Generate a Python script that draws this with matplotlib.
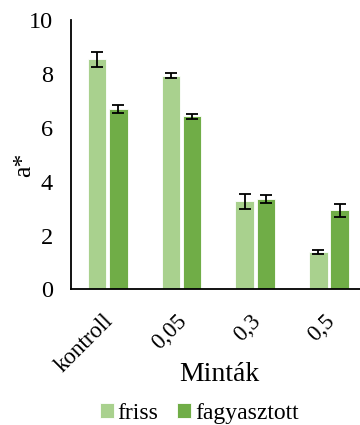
import numpy as np
import matplotlib
matplotlib.use('Agg')
import matplotlib.pyplot as plt
from matplotlib.transforms import ScaledTranslation

plt.rcParams['font.family'] = ['Liberation Serif', 'DejaVu Serif']

# a* colour values per sample, with standard deviations
categories = ['kontroll', '0,05', '0,3', '0,5']
friss = [8.55, 7.95, 3.28, 1.39]
friss_err = [0.28, 0.10, 0.28, 0.09]
fagyasztott = [6.71, 6.43, 3.35, 2.95]
fagyasztott_err = [0.14, 0.09, 0.15, 0.24]

fig = plt.figure(figsize=(3.6, 4.25), dpi=100)
ax = fig.add_axes([0.197, 0.319, 0.819, 0.633])

x = np.arange(len(categories))
w = 0.25
off = 0.144
err_kw = dict(elinewidth=1.3, capthick=1.3, ecolor='black')
ax.bar(x - off, friss, w, yerr=friss_err, capsize=4.5, color='#A9D18E',
       edgecolor='white', linewidth=0.6, error_kw=err_kw, label='friss')
ax.bar(x + off, fagyasztott, w, yerr=fagyasztott_err, capsize=4.5, color='#70AD47',
       edgecolor='white', linewidth=0.6, error_kw=err_kw, label='fagyasztott')

ax.set_xlim(-0.5, 3.5)
ax.set_ylim(0, 10)
ax.set_yticks([0, 2, 4, 6, 8, 10])
ax.set_xticks(x)
ax.set_xticklabels(categories, rotation=45, ha='right', rotation_mode='anchor')
ax.tick_params(length=0, labelsize=16.5)
ax.tick_params(axis='x', pad=15)
ax.tick_params(axis='y', pad=13, labelsize=17.5)

# nudge the slanted category labels a little to the left
shift = ScaledTranslation(-5 / 100, 0, fig.dpi_scale_trans)
for lbl in ax.get_xticklabels():
    lbl.set_transform(lbl.get_transform() + shift)

for s in ['top', 'right']:
    ax.spines[s].set_visible(False)
ax.spines['left'].set_linewidth(1.3)
ax.spines['bottom'].set_linewidth(1.3)

ax.set_ylabel('a*', fontsize=18.5)
ax.yaxis.set_label_coords(-0.12, 0.462)
ax.set_xlabel('Minták', fontsize=20)
ax.xaxis.set_label_coords(0.505, -0.27)

ax.legend(loc='center', bbox_to_anchor=(0.553, 0.028), bbox_transform=fig.transFigure,
          ncol=2, frameon=False, fontsize=17, handlelength=0.6, handleheight=0.6,
          handletextpad=0.15, columnspacing=0.8)

plt.savefig('out.png', dpi=100)
